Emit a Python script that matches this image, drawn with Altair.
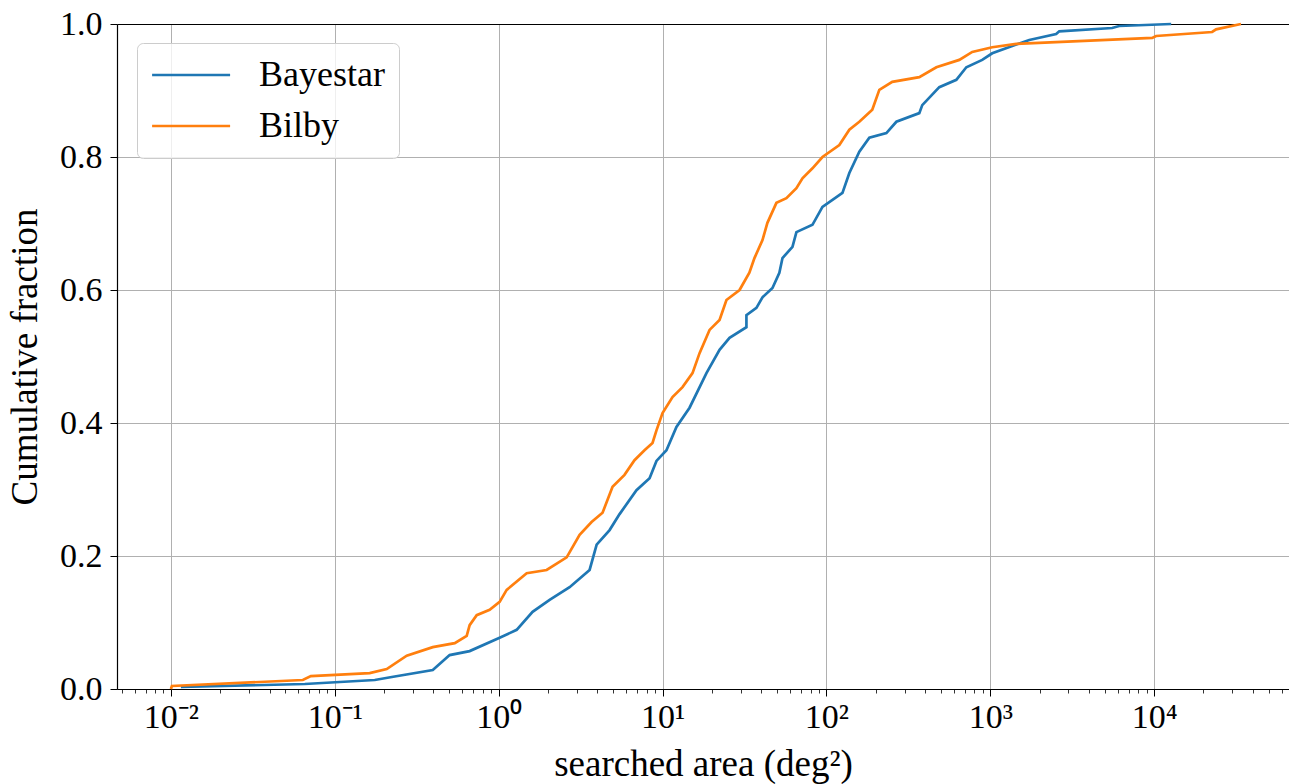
import altair as alt
import pandas as pd

# Bayestar searched-area CDF (log10 area in deg^2, cumulative fraction)
bayestar_log_area = [-1.939, -1.183, -0.756, -0.652, -0.402, -0.299, -0.177, 0.006, 0.110, 0.207,
                     0.311, 0.433, 0.555, 0.598, 0.677, 0.738, 0.841, 0.921, 0.963, 1.024,
                     1.085, 1.165, 1.268, 1.348, 1.409, 1.512, 1.512, 1.573, 1.610, 1.671,
                     1.713, 1.732, 1.793, 1.817, 1.915, 1.976, 2.098, 2.140, 2.201, 2.262,
                     2.366, 2.427, 2.567, 2.585, 2.689, 2.793, 2.854, 2.951, 3.012, 3.134,
                     3.238, 3.402, 3.421, 3.744, 3.787, 4.104]
bayestar_frac = [0.003, 0.0075, 0.0135, 0.018, 0.0286, 0.051, 0.057, 0.077, 0.089, 0.116,
                 0.134, 0.153, 0.179, 0.217, 0.239, 0.263, 0.299, 0.317, 0.343, 0.359,
                 0.394, 0.423, 0.475, 0.510, 0.528, 0.544, 0.562, 0.573, 0.589, 0.603,
                 0.626, 0.648, 0.665, 0.687, 0.698, 0.725, 0.746, 0.776, 0.808, 0.829,
                 0.836, 0.853, 0.866, 0.878, 0.905, 0.916, 0.935, 0.946, 0.956, 0.967,
                 0.976, 0.985, 0.989, 0.994, 0.997, 1.0]

# Bilby searched-area CDF
bilby_log_area = [-2.000, -1.994, -1.195, -1.146, -0.787, -0.683, -0.561, -0.402, -0.268, -0.195,
                  -0.177, -0.134, -0.055, 0.006, 0.049, 0.171, 0.293, 0.415, 0.494, 0.567,
                  0.634, 0.695, 0.768, 0.829, 0.890, 0.939, 0.963, 1.000, 1.061, 1.122,
                  1.183, 1.226, 1.287, 1.348, 1.390, 1.470, 1.530, 1.561, 1.610, 1.640,
                  1.695, 1.756, 1.817, 1.854, 1.915, 1.976, 2.079, 2.140, 2.201, 2.280,
                  2.323, 2.402, 2.567, 2.671, 2.811, 2.890, 3.012, 3.159, 3.988, 4.012,
                  4.354, 4.378, 4.530]
bilby_frac = [0.0, 0.0045, 0.0135, 0.0195, 0.024, 0.030, 0.050, 0.063, 0.069, 0.080,
              0.096, 0.111, 0.119, 0.131, 0.149, 0.174, 0.179, 0.198, 0.232, 0.251,
              0.265, 0.304, 0.322, 0.344, 0.359, 0.370, 0.389, 0.415, 0.439, 0.454,
              0.475, 0.505, 0.540, 0.555, 0.585, 0.600, 0.626, 0.648, 0.675, 0.701,
              0.731, 0.738, 0.753, 0.768, 0.783, 0.800, 0.818, 0.841, 0.853, 0.871,
              0.901, 0.913, 0.920, 0.935, 0.946, 0.958, 0.965, 0.970, 0.979, 0.982,
              0.988, 0.992, 1.0]

series_names = ["Bayestar", "Bilby"]
series_colors = ["#1f77b4", "#ff7f0e"]

major_ticks = [0.01, 0.1, 1, 10, 100, 1000, 10000]
major_labels = ["10⁻²", "10⁻¹", "10⁰", "10¹", "10²", "10³", "10⁴"]
minor_ticks = [m * 10.0 ** k for k in range(-3, 5) for m in range(2, 10)]
y_ticks = [0.0, 0.2, 0.4, 0.6, 0.8, 1.0]
x_domain = [0.004688, 66527]

rows = []
for la, f in zip(bayestar_log_area, bayestar_frac):
    rows.append({"area": 10 ** la, "frac": f, "series": "Bayestar", "order": len(rows)})
for la, f in zip(bilby_log_area, bilby_frac):
    rows.append({"area": 10 ** la, "frac": f, "series": "Bilby", "order": len(rows)})
df = pd.DataFrame(rows)

minor_ticks = [v for v in minor_ticks if x_domain[0] <= v <= x_domain[1]]

FONT = "Liberation Serif"
xscale = alt.Scale(type="log", domain=x_domain, nice=False)

label_expr = "[" + ",".join("'%s'" % s for s in major_labels) + "][round(log(datum.value)/LN10)+2]"

lines = alt.Chart(df).mark_line(strokeWidth=2.7).encode(
    x=alt.X("area:Q", scale=xscale,
            axis=alt.Axis(values=major_ticks, labelExpr=label_expr, title="searched area (deg²)",
                          orient="bottom", tickSize=7, tickColor="black", domainColor="black",
                          domainWidth=1.2, gridColor="#b0b0b0", gridWidth=1,
                          labelFontSize=34, labelPadding=4, titleFontSize=37,
                          titleFontWeight="normal", titlePadding=12, labelFlush=False)),
    y=alt.Y("frac:Q", scale=alt.Scale(domain=[0, 1], nice=False),
            axis=alt.Axis(values=y_ticks, format=".1f", title="Cumulative fraction",
                          tickSize=7, tickColor="black", domainColor="black", domainWidth=1.2,
                          gridColor="#b0b0b0", gridWidth=1, labelFontSize=34, labelPadding=8,
                          titleFontSize=37, titleFontWeight="normal", titlePadding=15,
                          labelFlush=False)),
    color=alt.Color("series:N", scale=alt.Scale(domain=series_names, range=series_colors),
                    legend=alt.Legend(orient="none", legendX=20, legendY=19, title=None,
                                      symbolType="M-1.3,0H4.7", symbolSize=676,
                                      symbolStrokeWidth=2.7,
                                      labelFontSize=36, labelOffset=72, rowPadding=15,
                                      padding=14, fillColor="rgba(255,255,255,0.8)",
                                      strokeColor="#cccccc", cornerRadius=6)),
    order="order:Q",
)

minor = alt.Chart(df).mark_point(opacity=0).encode(
    x=alt.X("area:Q", scale=xscale,
            axis=alt.Axis(values=minor_ticks, labels=False, title=None, grid=False, domain=False,
                          orient="bottom", tickSize=4, tickColor="black", tickWidth=0.8)),
)

top = alt.Chart(df).mark_point(opacity=0).encode(
    x=alt.X("area:Q", scale=xscale,
            axis=alt.Axis(orient="top", labels=False, ticks=False, grid=False, title=None,
                          domainColor="black", domainWidth=1.2)),
)

chart = alt.layer(lines, minor, top).resolve_axis(x="independent").properties(
    width=1172, height=665,
    autosize=alt.AutoSizeParams(type="none"),
    padding={"left": 117, "top": 24, "right": 0, "bottom": 95},
).configure(font=FONT).configure_view(stroke=None).configure_axis(
    labelFont=FONT, titleFont=FONT, labelColor="black", titleColor="black"
).configure_legend(labelFont=FONT, labelColor="black")

chart.save("out.html", embed_options={"renderer": "svg", "actions": False})
